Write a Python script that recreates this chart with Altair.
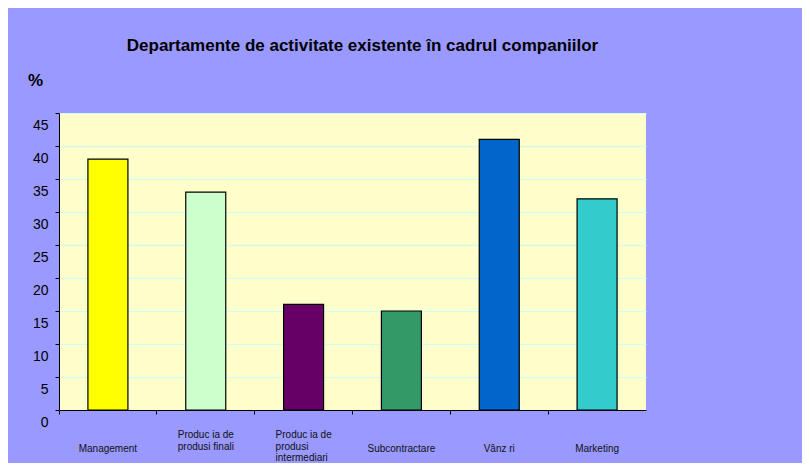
import altair as alt
import pandas as pd

categories = ["Management", "Produc ia de produsi finali", "Produc ia de produsi intermediari",
              "Subcontractare", "Vânz ri", "Marketing"]
labels = ["Management", "Produc ia de\nprodusi finali", "Produc ia de\nprodusi\nintermediari",
          "Subcontractare", "Vânz ri", "Marketing"]
multiline = [False, True, True, False, False, False]
values = [38, 33, 16, 15, 41, 32]
colors = ["#FFFF00", "#CCFFCC", "#660066", "#339966", "#0066CC", "#33CCCC"]
y_ticks = [0, 5, 10, 15, 20, 25, 30, 35, 40, 45]

df = pd.DataFrame({"cat": categories, "label": labels, "multi": multiline, "val": values})

FONT = "Liberation Sans"
W, H = 587, 297

x_enc = alt.X("cat:N", sort=categories,
              scale=alt.Scale(paddingInner=0, paddingOuter=0),
              axis=alt.Axis(labels=False, title=None, bandPosition=0, tickSize=4,
                            tickColor="black", domainColor="black", grid=False))

bars = alt.Chart(df).mark_bar(width=40, stroke="black", strokeWidth=1.2).encode(
    x=x_enc,
    y=alt.Y("val:Q", scale=alt.Scale(domain=[0, 45]),
            axis=alt.Axis(values=y_ticks, title="%", titleAngle=0, titleX=-24, titleY=-33,
                          titleAlign="center", titleBaseline="middle", titleFont=FONT,
                          titleFontSize=17, titleFontWeight="bold", titleColor="black",
                          labelFont=FONT, labelFontSize=14, labelColor="black",
                          labelOffset=12, labelPadding=7, tickSize=4, tickColor="black",
                          domainColor="black", grid=True, gridColor="#CCFFFF", gridWidth=1.2)),
    color=alt.Color("cat:N", scale=alt.Scale(domain=categories, range=colors), legend=None),
)

single = alt.Chart(df).transform_filter("!datum.multi").mark_text(
    font=FONT, fontSize=10, color="#111111", align="center", baseline="middle", lineBreak="\n"
).encode(x=alt.X("cat:N", sort=categories), y=alt.value(H + 39), text="label:N")

multi = alt.Chart(df).transform_filter("datum.multi").mark_text(
    font=FONT, fontSize=10, color="#111111", align="left", baseline="top", dx=-28,
    lineBreak="\n", lineHeight=11.5
).encode(x=alt.X("cat:N", sort=categories), y=alt.value(H + 20), text="label:N")

chart = alt.layer(bars, single, multi).properties(
    width=W, height=H,
    title=alt.TitleParams("Departamente de activitate existente în cadrul companiilor",
                          font=FONT, fontSize=17, fontWeight="bold", color="black",
                          anchor="middle", frame="group", dx=10, offset=3,
                          baseline="alphabetic"),
    background="#9999FF",
    autosize=alt.AutoSizeParams(type="none"),
    padding={"left": 51, "top": 105, "right": 156, "bottom": 53},
).configure_view(fill="#FFFFCC", strokeWidth=0)

chart.save("out.html", embed_options={"renderer": "svg", "actions": False})
